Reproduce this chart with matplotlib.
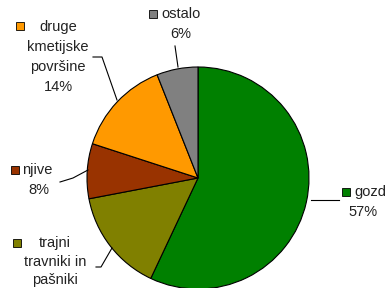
import matplotlib
matplotlib.use('Agg')

import matplotlib.pyplot as plt

labels = ['gozd', 'trajni\ntravniki in\npašniki', 'njive', 'druge\nkmetijske\npovršine', 'ostalo']
values = [57, 15, 8, 14, 6]
colors = ['#008000', '#808000', '#993300', '#ff9900', '#808080']
pct_text = ['57%', '15%', '8%', '14%', '6%']

plt.rcParams['font.family'] = ['Liberation Sans', 'DejaVu Sans']

fig = plt.figure(figsize=(3.92, 2.88), dpi=100)
ax = fig.add_axes([0, 0, 1, 1])
H = 288

ax.pie(values, colors=colors, startangle=90, counterclock=False,
       center=(198, H - 178), radius=111,
       wedgeprops=dict(edgecolor='black', linewidth=0.8))

ax.set_xlim(0, 392)
ax.set_ylim(0, H)
ax.set_aspect('equal')
ax.axis('off')

fs = 10.5

# helpers work in image pixels (y measured from the top)
def key(x, y, c):
    ax.plot([x], [H - y], marker='s', markersize=6, mfc=c, mec='black', mew=0.6)

def line(pts):
    xs = [p[0] for p in pts]
    ys = [H - p[1] for p in pts]
    ax.plot(xs, ys, color='black', linewidth=0.8)

def txt(x, y, s, ha='center'):
    ax.text(x, H - y, s, fontsize=fs, va='center', ha=ha, color='#222222')

# gozd
key(346, 192, colors[0])
txt(354, 192, labels[0], ha='left')
txt(363, 212, pct_text[0])
line([(311, 200), (323, 200), (339, 200)])

# trajni travniki in pasniki (its percentage falls below the image edge)
key(17, 243, colors[1])
for i, s in enumerate(labels[1].split('\n')):
    txt(55, 243 + 18.5 * i, s)
line([(96, 267), (101, 267), (112, 248)])

# njive
key(15, 170, colors[2])
txt(22, 170, labels[2], ha='left')
txt(39, 190, pct_text[2])
line([(60, 182), (73, 178), (88, 170)])

# druge kmetijske povrsine
key(20, 26, colors[3])
for i, s in enumerate(labels[3].split('\n')):
    txt(58, 27 + 20 * i, s)
txt(58, 87, pct_text[3])
line([(93, 57), (102, 57), (117, 100)])

# ostalo
key(153, 14, colors[4])
txt(161, 14, labels[4], ha='left')
txt(181, 34, pct_text[4])
line([(175, 46), (178, 67)])

fig.savefig('out.png', dpi=100)
